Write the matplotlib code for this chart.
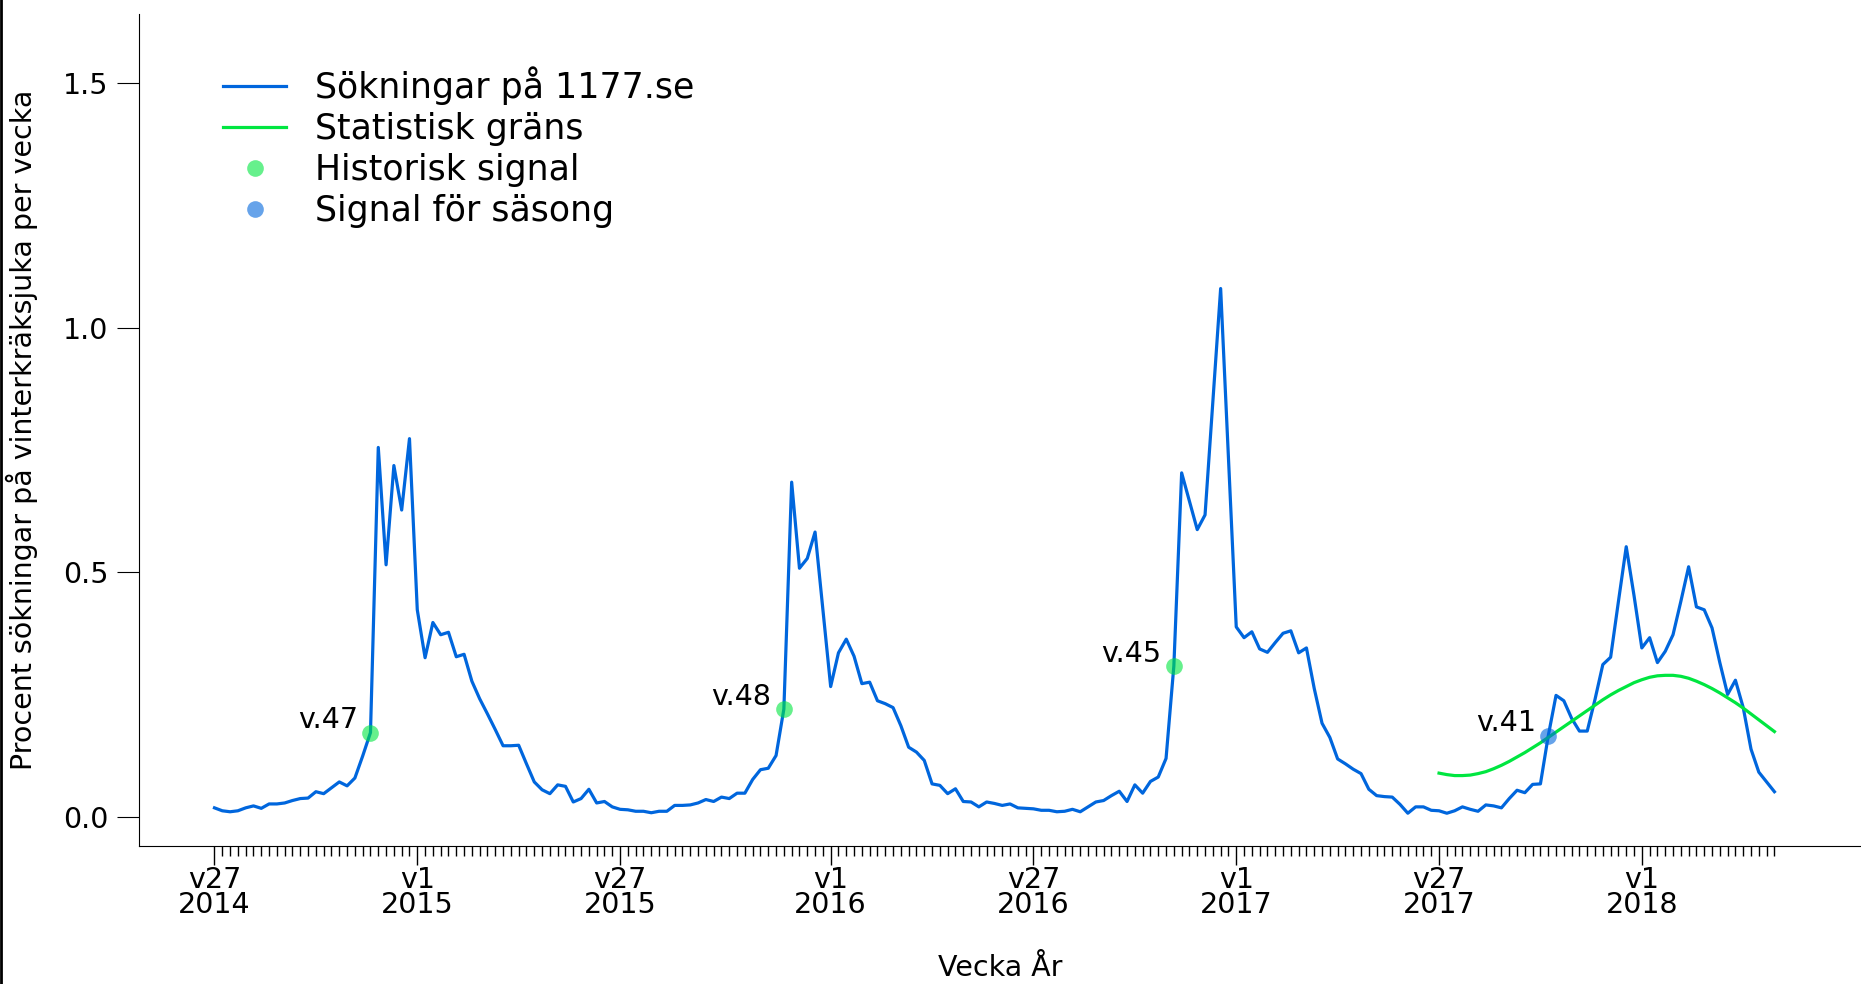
import numpy as np
import matplotlib
matplotlib.use("Agg")
import matplotlib.pyplot as plt
from matplotlib.lines import Line2D

# veckor: 2014 v27 .. 2018 v18 (2015 har 53 veckor)
weeks_in_year = {2014: 52, 2015: 53, 2016: 52, 2017: 52, 2018: 52}
start_year, start_week = 2014, 27
end_year, end_week = 2018, 18

sokningar = [
    0.018, 0.012, 0.010, 0.012, 0.018, 0.022, 0.017, 0.026, 0.026, 0.028,
    0.033, 0.037, 0.038, 0.051, 0.047, 0.059, 0.071, 0.063, 0.079, 0.124,
    0.172, 0.755, 0.515, 0.718, 0.627, 0.773, 0.423, 0.325, 0.397, 0.372,
    0.377, 0.327, 0.332, 0.277, 0.241, 0.210, 0.178, 0.145, 0.145, 0.146,
    0.108, 0.071, 0.055, 0.047, 0.065, 0.062, 0.030, 0.037, 0.056, 0.028,
    0.031, 0.020, 0.015, 0.014, 0.011, 0.011, 0.008, 0.011, 0.011, 0.023,
    0.023, 0.024, 0.028, 0.035, 0.031, 0.040, 0.037, 0.048, 0.048, 0.076,
    0.096, 0.099, 0.125, 0.220, 0.684, 0.508, 0.528, 0.582, 0.423, 0.266,
    0.335, 0.363, 0.328, 0.272, 0.275, 0.237, 0.231, 0.223, 0.186, 0.142,
    0.132, 0.115, 0.067, 0.064, 0.047, 0.057, 0.031, 0.030, 0.020, 0.030,
    0.027, 0.023, 0.026, 0.018, 0.017, 0.016, 0.013, 0.013, 0.010, 0.011,
    0.015, 0.010, 0.020, 0.030, 0.033, 0.043, 0.052, 0.031, 0.065, 0.048,
    0.072, 0.081, 0.119, 0.308, 0.703, 0.645, 0.587, 0.617, 0.848, 1.080,
    0.732, 0.388, 0.366, 0.378, 0.343, 0.336, 0.356, 0.375, 0.380, 0.335,
    0.345, 0.262, 0.191, 0.162, 0.118, 0.108, 0.097, 0.088, 0.056, 0.043,
    0.041, 0.040, 0.025, 0.007, 0.020, 0.020, 0.013, 0.012, 0.007, 0.012,
    0.020, 0.015, 0.011, 0.024, 0.022, 0.018, 0.037, 0.054, 0.049, 0.066,
    0.067, 0.165, 0.248, 0.237, 0.201, 0.175, 0.175, 0.240, 0.311, 0.326,
    0.440, 0.552, 0.452, 0.345, 0.366, 0.315, 0.338, 0.372, 0.440, 0.511,
    0.429, 0.423, 0.386, 0.315, 0.250, 0.279, 0.223, 0.138, 0.091, 0.071,
    0.051,
]

# statistisk gräns, säsong 2017/2018 från v27 2017
grans_start = (2017, 27)
grans = [
    0.089, 0.086, 0.084, 0.084, 0.085, 0.088, 0.092, 0.098, 0.105, 0.113,
    0.122, 0.131, 0.141, 0.151, 0.162, 0.173, 0.184, 0.195, 0.206, 0.217,
    0.228, 0.239, 0.249, 0.258, 0.266, 0.274, 0.280, 0.285, 0.288, 0.289,
    0.289, 0.287, 0.283, 0.277, 0.270, 0.262, 0.253, 0.243, 0.233, 0.222,
    0.210, 0.198, 0.186, 0.174,
]

historiska_signaler = [(2014, 47), (2015, 48), (2016, 45)]
sasong_signal = [(2017, 41)]

# bygg veckolista
veckor = []
y, w = start_year, start_week
while True:
    veckor.append((y, w))
    if (y, w) == (end_year, end_week):
        break
    w += 1
    if w > weeks_in_year[y]:
        y, w = y + 1, 1
idx = {v: i for i, v in enumerate(veckor)}
x = np.arange(len(sokningar))

BLUE = "#0066dd"
GREEN = "#00e640"
FS = 20.5

fig = plt.figure(figsize=(18.61, 9.84), dpi=100)
ax = fig.add_axes([0.0746, 0.140, 0.9254, 0.8456])

ax.plot(x, sokningar, color=BLUE, lw=2.3, label="Sökningar på 1177.se")
gx = np.arange(idx[grans_start], idx[grans_start] + len(grans))
ax.plot(gx, grans, color=GREEN, lw=2.3, label="Statistisk gräns")

hx = [idx[v] for v in historiska_signaler]
ax.plot(hx, [sokningar[i] for i in hx], "o", color=GREEN, alpha=0.6, ms=12,
        mec="none", label="Historisk signal")
sx = [idx[v] for v in sasong_signal]
ax.plot(sx, [sokningar[i] for i in sx], "o", color=BLUE, alpha=0.6, ms=12,
        mec="none", label="Signal för säsong")

for v in historiska_signaler + sasong_signal:
    i = idx[v]
    ax.annotate("v.%d" % v[1], (i, sokningar[i]), xytext=(-9, 9),
                textcoords="offset points", ha="right", va="center", fontsize=FS)

major = [i for i, (yy, ww) in enumerate(veckor) if ww in (1, 27)]
ax.set_xticks(major)
ax.set_xticklabels(["v%d\n%d" % (veckor[i][1], veckor[i][0]) for i in major],
                   fontsize=FS, linespacing=0.85)
ax.set_xticks(x, minor=True)
ax.tick_params(axis="x", which="major", length=13.5, width=1, pad=1)
ax.tick_params(axis="x", which="minor", length=7, width=1)
ax.tick_params(axis="y", length=16, pad=6, labelsize=FS)
ax.set_yticks([0.0, 0.5, 1.0, 1.5])

ax.set_xlim(-9.7, 211.1)
ax.set_ylim(-0.0605, 1.641)

ax.spines["top"].set_visible(False)
ax.spines["right"].set_visible(False)

ax.set_xlabel("Vecka År", fontsize=FS, labelpad=25)
ax.set_ylabel("Procent sökningar på vinterkräksjuka per vecka", fontsize=FS, labelpad=18)

ax.legend(loc="upper left", bbox_to_anchor=(0.031, 0.975), frameon=False,
          fontsize=25, handlelength=1.8, handletextpad=0.85, labelspacing=0.2,
          numpoints=1)

# kant längst till vänster i originalet
fig.add_artist(Line2D([0.0008, 0.0008], [0, 1], color="black", lw=2,
                      transform=fig.transFigure))

fig.savefig("out.png", dpi=100)
